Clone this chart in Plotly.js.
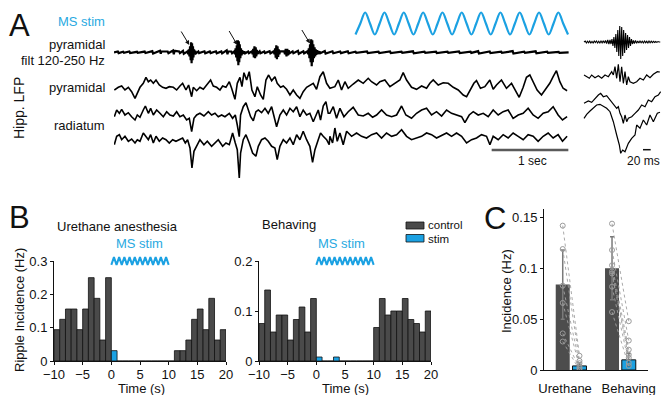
<!DOCTYPE html>
<html><head><meta charset="utf-8">
<script src="https://cdn.plot.ly/plotly-3.0.1.min.js"></script>
<style>html,body{margin:0;padding:0;background:#fff}#chart{width:661px;height:395px}</style>
</head><body><div id="chart"></div>
<script>
// ---------- Panel A: LFP traces (time in s, amplitude in arbitrary units) ----------
const filtT = [0.00,0.05,0.06,0.12,0.13,0.20,0.21,0.30,0.31,0.40,0.41,0.50,0.51,0.60,0.61,0.62,0.70,0.71,0.77,0.78,0.79,0.85,0.86,0.90,0.91,
0.960,0.968,0.976,0.984,0.992,1.000,1.006,1.012,1.018,1.024,1.030,1.036,1.044,1.052,1.060,1.070,
1.10,1.11,1.18,1.19,1.25,1.26,1.33,1.34,1.40,1.41,1.47,1.48,1.49,1.53,1.54,
1.570,1.578,1.586,1.594,1.602,1.610,1.616,1.622,1.628,1.634,1.640,1.648,1.656,1.664,1.672,1.680,
1.70,1.71,1.75,1.76,
1.800,1.808,1.816,1.824,1.832,1.840,1.848,1.856,1.864,1.872,
1.90,1.91,1.96,1.97,2.03,2.04,
2.085,2.093,2.101,2.109,2.117,2.125,2.133,2.141,2.149,2.157,2.165,
2.220,2.230,2.240,2.250,2.260,2.270,2.280,2.290,
2.33,2.34,2.40,2.41,2.47,2.48,
2.525,2.533,2.541,2.549,2.557,2.565,2.572,2.579,2.586,2.593,2.600,2.608,2.616,2.624,2.632,2.640,2.650,2.660,2.680,2.690,
2.75,2.76,2.85,2.86,2.95,2.96,3.05,3.06,3.15,3.16,3.30,3.31,3.45,3.46,3.60,3.61,3.75,3.76,3.90,3.91,4.05,4.06,4.20,4.21,4.35,4.36,4.50,4.51,4.65,4.66,4.75,4.76,4.90,4.91,5.05,5.06,5.20,5.21,5.35,5.36,5.50,5.51,5.65,5.66,5.80,5.81,5.93];
const filtV = [0,0.8,-0.8,0.5,-0.5,0.8,-0.8,0.5,-0.6,0.7,-0.7,1.2,-1.2,1.5,-1.5,1,0.8,-0.8,1.8,-2,1.5,0.8,-0.8,1.5,-1.5,
1,-2,3,-4,6,-8,10,-11,9,-8,6,-5,3,-2,1.5,-1,
0.8,-0.8,1,-1,0.8,-0.8,1,-1,0.8,-1,2,-2,1,0.8,-1,
1,-2,4,-5,7,-9,12,-13,11,-10,8,-6,4,-3,2,-1.5,
1,-1,0.8,-0.8,
1,-2,3.5,-5,6,-6,5,-4,2.5,-1.5,
1,-1,0.8,-0.8,1,-1,
1,-2,4,-5.5,7,-7,6,-4.5,3,-2,1,
1,-2,3.5,-4,3.5,-3,2,-1,
1,-1,1.5,-1.5,1,-1,
1,-2,4,-6,8,-10,13,-14,12,-10,8,-6,5,-4,3,-2.5,2,-1.5,1,-1,
1.2,-1.2,1,-1,0.8,-0.8,1,-1,0.6,-0.6,0.8,-0.8,0.7,-0.7,0.8,-0.8,0.6,-0.6,1,-1,0.6,-0.6,0.7,-0.7,0.6,-0.6,0.8,-0.8,0.6,-0.6,1.2,-1.2,0.8,-0.8,0.6,-0.6,1.2,-1.2,0.6,-0.6,1,-1,0.6,-0.6,0.5,-0.5,0];

const pyrT = [0.004,0.056,0.100,0.143,0.187,0.230,0.274,0.304,0.339,0.382,0.417,0.448,0.478,0.513,0.548,0.591,0.634,0.678,0.721,0.774,
0.817,0.860,0.895,0.939,0.973,1.013,1.034,1.078,1.121,1.165,1.208,1.260,1.295,1.339,1.382,1.417,1.460,1.504,1.534,1.578,
1.608,1.643,1.669,1.695,1.730,1.764,1.799,1.838,1.869,1.912,1.947,1.982,2.017,2.056,2.099,2.129,2.173,2.208,2.251,2.295,
2.338,2.382,2.425,2.468,2.512,2.555,2.599,2.642,2.686,2.729,2.773,2.816,2.881,2.925,2.968,3.012,3.055,3.120,3.186,3.251,
3.316,3.359,3.425,3.468,3.533,3.599,3.664,3.729,3.772,3.816,3.881,3.946,4.012,4.077,4.120,4.164,4.229,4.294,4.359,4.425,
4.490,4.555,4.599,4.642,4.694,4.728,4.780,4.837,4.902,4.946,4.989,5.054,5.119,5.185,5.228,5.285,5.337,5.380,5.424,5.476,
5.519,5.576,5.632,5.684,5.728,5.771,5.815,5.858,5.910];
const pyrV = [-2,0.7,2,-2,0.7,-3.7,-10.3,-5.3,0.7,4.7,10.7,6.3,8,4.7,8,3,0.7,-0.3,1.3,0.7,
-2,2,4.7,-2,3,-8.7,0.7,-2.7,0.7,-1.3,3,8,2,0.7,-2,2,0.7,6.3,-0.3,-11.3,
4.7,10.7,1.3,15.3,8,16.3,-2,-8.7,1.3,-7,-11.3,8,13,7.3,11.3,4.7,0.7,2,-1.3,-7,
-2,-7,-10.3,-3.7,0.7,3,4.7,-1.3,11.3,16.3,4.7,-0.3,1.3,8,-2,6.3,-0.3,4,8,4.7,
9.7,6.3,3,6.3,8,1.3,4.7,8,15.3,8,0.7,-1.3,2,-0.3,4.7,8,3,5.3,4.7,0.7,
-2,-7,-8.7,-2,4.7,7.3,-0.3,1.3,8,-1.3,3,8,-0.3,4.7,-2,-9.3,0.7,10.7,13,4.7,
-2,-7,-1.3,4.7,11.3,17.3,6.3,-0.3,-2.7];

const rad1T = [0.004,0.035,0.070,0.100,0.143,0.187,0.230,0.274,0.304,0.339,
0.382,0.409,0.448,0.478,0.513,0.556,0.600,0.643,0.687,0.730,
0.774,0.817,0.860,0.904,0.947,0.982,1.013,1.043,1.078,1.121,
1.173,1.230,1.273,1.317,1.360,1.404,1.447,1.504,1.547,1.582,
1.608,1.634,1.651,1.686,1.721,1.751,1.782,1.817,1.851,1.882,
1.925,1.969,2.012,2.056,2.086,2.121,2.164,2.208,2.251,2.295,
2.338,2.382,2.425,2.468,2.512,2.555,2.599,2.634,2.664,2.694,
2.729,2.764,2.794,2.816,2.860,2.903,2.947,2.999,3.055,3.120,
3.186,3.251,3.316,3.373,3.425,3.490,3.555,3.621,3.686,3.751,
3.807,3.881,3.946,4.012,4.077,4.142,4.207,4.273,4.338,4.403,
4.468,4.534,4.577,4.633,4.686,4.750,4.816,4.881,4.946,5.011,
5.076,5.141,5.206,5.272,5.337,5.402,5.467,5.532,5.598,5.663,
5.728,5.793,5.850,5.910];
const rad1V = [-1.7,5,1.7,5.7,0,2.3,-1.7,-5,0,-2.3,
5,9,1.7,6.7,0,5,1.7,-1.7,3.3,0,
-1,3.3,-1.7,0,-5,-3.3,-16.7,-3.3,0,1.7,
-1,3.3,0,1.7,-1.7,0,-1.7,1.7,-3.3,0,
-10,-21.7,0,8.3,12.3,5,-1.7,-5.7,3.3,5,
2.3,6.7,1.7,8.3,-1.7,-11.7,0,5,0,6.7,
3.3,8.3,-1.7,5,0,1.7,-6.7,0,5,-5,
9,13.3,1.7,1.7,8.3,-3.3,6.7,-1.7,3.3,7.7,
0,-1,1.7,-2.3,0,5,0,-1.7,0,9,
0,-3.3,1.7,5,6.7,0,3.3,-1,5,1.7,
0,-1.7,-7.7,0,3.3,0,1.7,-1.7,5,0,
3.3,5,-3.3,0,1.7,6.7,0,-3.3,1.7,3.3,
8.3,0,-5,-1.7];

const rad2T = [0.004,0.035,0.070,0.100,0.143,0.187,0.230,0.274,0.304,0.339,
0.382,0.409,0.448,0.478,0.513,0.548,0.591,0.634,0.678,0.721,
0.765,0.808,0.852,0.895,0.930,0.960,0.991,1.017,1.043,1.078,
1.121,1.173,1.217,1.273,1.317,1.360,1.417,1.460,1.504,1.547,
1.582,1.608,1.634,1.651,1.686,1.721,1.764,1.808,1.851,1.882,
1.925,1.969,2.012,2.056,2.099,2.129,2.164,2.208,2.251,2.295,
2.338,2.382,2.425,2.468,2.512,2.555,2.590,2.621,2.664,2.694,
2.729,2.773,2.807,2.816,2.851,2.881,2.912,2.947,2.990,3.034,
3.099,3.164,3.229,3.294,3.360,3.425,3.490,3.555,3.621,3.686,
3.751,3.816,3.881,3.946,4.012,4.077,4.142,4.207,4.273,4.338,
4.403,4.468,4.534,4.599,4.664,4.729,4.794,4.859,4.903,4.946,
5.011,5.076,5.141,5.206,5.272,5.337,5.402,5.467,5.532,5.598,
5.663,5.728,5.793,5.850,5.910];
const rad2V = [-6.7,1.7,3.3,-1.7,1.7,-3.3,-1,-5,-1.7,-3.3,
5,1.7,-1.7,3.3,-5,1.7,-3.3,0,-1.7,-5,
-1.7,-3.3,-1.7,0,-5,-1.7,-10,-30,-13.3,-8.3,
-1.7,-6.7,-3.3,-8.3,-5,-1.7,-8.3,-5,-6.7,5,
-5,-11.7,-40,-15,-1.7,3.3,-5,-15,-18.3,-8.3,
-1.7,0,-3.3,-8.3,-10,-21.7,-8.3,-1.7,-5,0,
-6.7,3.3,-1.7,6.7,-1.7,-8.3,-24.3,-11.7,-1.7,5,
1.7,-1.7,-6.7,1.7,-5,10,-3.3,5,-6.7,6.7,
1.7,5,1.7,0,3.3,5,0,5,1.7,3.3,
8.3,1.7,-1.7,0,1.7,5,3.3,0,2.3,5,
1.7,5,1.7,-5,-1.7,0,3.3,1.7,-6.7,1.7,
-1.7,3.3,0,5,1.7,-1.7,3.3,1.7,-3.3,1.7,
5,0,3.3,-3.3,1.7];

// MS stimulation waveform (sampled every quarter cycle)
const stimT = [3.150,3.213,3.276,3.339,3.402,3.465,3.528,3.591,3.654,3.717,3.780,3.843,3.906,3.969,4.032,4.095,4.158,4.221,4.284,4.347,4.410,4.473,4.536,4.599,4.662,4.725,4.788,4.851,4.914,4.977,5.040,5.103,5.166,5.229,5.292,5.355,5.418,5.481,5.544,5.607,5.670,5.733,5.796,5.859,5.922];
const stimV = [-1,0,1,0,-1,0,1,0,-1,0,1,0,-1,0,1,0,-1,0,1,0,-1,0,1,0,-1,0,1,0,-1,0,1,0,-1,0,1,0,-1,0,1,0,-1,0,1,0,-1];

// Insets (time in ms)
const ripT = [2.7,6,9,12,15,18,21,24,27,30,33,36,39,42,45,48,51,54,57,60,63,66,69,
72,74.6,77.2,79.8,82.4,85,87.6,90.2,92.8,95.4,98,100.6,103.2,105.8,108.4,111,113.6,116.2,118.8,121.4,124,126.6,129.2,131.8,134.4,
137,140,143,146,149,152,155,158,161,164,167,170,173,176,179,182,185,188,191,194,197,200,203,206];
const ripV = [0,1,-1,0.8,-0.8,1,-1,0.5,-1,1,-0.6,1,-1,0.7,-1,1,-0.8,1.2,-1,1.5,-1.5,2,-2,
2,-2,3,-4,5,-6,8,-10,12,-14,16,-17,15,-14,12,-11,9,-8,7,-6,5,-4,3,-2,1.5,
-1.5,1.5,-1.2,1,-1,1,-0.8,0.8,-1,1,-0.7,0.7,-1,1,-0.8,0.8,-0.6,0.6,-0.5,0.5,-0.4,0.4,0,0];
const pyrInsT = [2.7,9.8,16.9,23.1,32.0,40.9,49.8,58.7,67.6,76.5,80.9,85.3,89.8,94.2,98.7,103.1,107.6,112.0,116.5,120.9,125.3,134.2,143.1,152.0,160.9,169.8,178.7,187.6,198.2,205];
const pyrInsV = [1,-0.7,-2.3,1,-1.7,0.3,-2.3,1,-0.7,4.3,1,9.3,-2.3,11.7,-5.7,9.3,-7.3,4.3,-9,-0.7,-5.7,-7.3,-5.7,-2.3,-4,1,-1.7,1.7,4.3,4];
const rad1InsT = [2.7,14.2,23.1,32.0,40.9,47.1,54.2,63.1,72.0,80.9,89.8,94.2,98.7,103.1,107.6,112.0,116.5,120.9,129.8,138.7,147.6,156.5,165.4,174.2,183.1,192.0,200.9,207.1];
const rad1InsV = [6.7,9,7.7,11.7,15,16.7,13.3,14.3,10,6.7,1.7,3.3,-3.3,-6.7,-13.3,-5,-11.7,-8.3,-6.7,-3.3,0,5,3.3,10,8.3,13.3,15,18.3];
const rad2InsT = [2.7,9.8,18.7,27.6,36.4,45.3,54.2,63.1,72.0,80.9,89.8,96.9,100.5,105.8,112.0,120.9,129.8,138.7,143.1,152.0,160.9,169.8,178.7,187.6,198.2,205.3];
const rad2InsV = [6.7,10.7,14,16.7,20,20.7,18.3,16.7,13.3,3.3,-10,-20,-28.3,-25,-26.7,-18.3,-13.3,-10,0,-3.3,5,0,10,3.3,11.7,12.7];

// ---------- Panel B: ripple incidence histograms (1-s bins, left edges) ----------
const binsPre  = [-10,-9,-8,-7,-6,-5,-4,-3,-2,-1];
const binsStim = [0,1,2,3,4,5,6,7,8,9];
const binsPost = [10,11,12,13,14,15,16,17,18,19];
const uretPre  = [0.094,0.125,0.156,0.156,0.094,0.156,0.25,0.188,0.063,0.25];
const uretStim = [0.031,0,0,0,0,0,0,0,0,0];
const uretPost = [0,0.031,0.031,0.063,0.125,0.156,0.094,0.188,0.063,0.094];
const behPre   = [0.075,0.142,0.058,0.092,0.092,0.042,0.083,0.108,0.058,0.125];
const behStim  = [0.008,0,0,0.008,0,0,0,0,0,0];
const behPost  = [0.067,0.125,0.092,0.1,0.1,0.125,0.083,0.075,0.058,0.1];
const zigT = [0,0.4545,0.909,1.364,1.818,2.273,2.727,3.182,3.636,4.091,4.545,5.0,5.455,5.909,6.364,6.818,7.273,7.727,8.182,8.636,9.091,9.545,10.0];
const zigV = [0,1,0,1,0,1,0,1,0,1,0,1,0,1,0,1,0,1,0,1,0,1,0];

// ---------- Panel C ----------
const cCats = ['Urethane','Behaving'];
const ctrlMean = [0.084,0.100];
const ctrlSem  = [0.034,0.031];
const stimMean = [0.004,0.010];
const stimSem  = [0.003,0.006];
const uretCtrlPts = [0.142,0.119,0.083,0.066,0.036,0.028];
const uretStimPts = [0.014,0.009,0.0067,0.0033,0.0017,0.000];
const behCtrlPts  = [0.144,0.118,0.103,0.097,0.095,0.082,0.057];
const behStimPts  = [0.048,0.029,0.020,0.015,0.012,0.007,0.004];

// ---------- build ----------
const W = 661, H = 395;
const px = x => x / W, py = y => 1 - y / H;
const BLUE = '#1ba1e2', TXTBLUE = '#29a9e1', GRAY = '#4a4a4a', INK = '#111';

const traces = [];
function line(t, v, base, ax, ay, color, w, extra) {
  return Object.assign({type:'scatter', mode:'lines', x:t, y:v.map(a => a - base),
    xaxis:ax, yaxis:ay, line:{color:color, width:w}, hoverinfo:'skip'}, extra || {});
}
// stim sine
traces.push(line(stimT, stimV.map(s => s * 11), 23.5, 'x', 'y', BLUE, 2.2, {line:{color:BLUE, width:2.2, shape:'spline'}}));
traces.push(line(filtT, filtV, 52.3, 'x', 'y', '#000', 2.2));
traces.push(line(pyrT, pyrV, 88, 'x', 'y', '#000', 1.6));
traces.push(line(rad1T, rad1V, 115, 'x', 'y', '#000', 1.6));
traces.push(line(rad2T, rad2V, 138, 'x', 'y', '#000', 1.6));
// insets
traces.push(line(ripT, ripV, 42, 'x2', 'y2', '#000', 1.1));
traces.push(line(pyrInsT, pyrInsV, 76, 'x2', 'y2', '#000', 1.2));
traces.push(line(rad1InsT, rad1InsV, 110, 'x2', 'y2', '#000', 1.2));
traces.push(line(rad2InsT, rad2InsV, 125, 'x2', 'y2', '#000', 1.2));

function bars(x, y, color, ax, ay) {
  return {type:'bar', x:x, y:y, offset:0, width:1, xaxis:ax, yaxis:ay,
    marker:{color:color, line:{color:'#111', width:0.8}}, hoverinfo:'skip'};
}
traces.push(bars(binsPre, uretPre, GRAY, 'x3', 'y3'));
traces.push(bars(binsPost, uretPost, GRAY, 'x3', 'y3'));
traces.push(bars(binsStim, uretStim, BLUE, 'x3', 'y3'));
traces.push(bars(binsPre, behPre, GRAY, 'x4', 'y4'));
traces.push(bars(binsPost, behPost, GRAY, 'x4', 'y4'));
traces.push(bars(binsStim, behStim, BLUE, 'x4', 'y4'));
traces.push({type:'scatter', mode:'lines', x:zigT, y:zigV, xaxis:'x3', yaxis:'y6', line:{color:BLUE, width:2}, hoverinfo:'skip'});
traces.push({type:'scatter', mode:'lines', x:zigT, y:zigV, xaxis:'x4', yaxis:'y7', line:{color:BLUE, width:2}, hoverinfo:'skip'});

// panel C bars
const BW = 0.284;
traces.push({type:'bar', x:[0,1], y:ctrlMean, offset:-0.31, width:BW, xaxis:'x5', yaxis:'y5',
  marker:{color:'#4d4d4d', line:{width:0}},
  error_y:{type:'data', array:ctrlSem, visible:true, color:'#7a7a7a', thickness:1.5, width:2}, hoverinfo:'skip'});
traces.push({type:'bar', x:[0,1], y:stimMean, offset:0.03, width:BW, xaxis:'x5', yaxis:'y5',
  marker:{color:BLUE, line:{color:'#111', width:1}},
  error_y:{type:'data', array:stimSem, visible:true, color:'#555', thickness:1, width:2}, hoverinfo:'skip'});
// paired points
const cx = [], cy = [];
[[uretCtrlPts, uretStimPts, 0], [behCtrlPts, behStimPts, 1]].forEach(([c, s, i]) => {
  c.forEach((v, k) => { cx.push(i - 0.31 + BW/2, i + 0.03 + BW/2, null); cy.push(v, s[k], null); });
});
traces.push({type:'scatter', mode:'lines+markers', x:cx, y:cy, xaxis:'x5', yaxis:'y5',
  line:{color:'#a0a0a0', width:0.9, dash:'dot'},
  marker:{symbol:'circle-open', size:5, color:'#9a9a9a', line:{width:1}}, hoverinfo:'skip'});

const hid = {visible:false, fixedrange:true, showgrid:false, zeroline:false};
const axStyle = {showline:true, linecolor:'#111', linewidth:1, ticks:'outside', ticklen:3, tickwidth:1,
  tickcolor:'#111', showgrid:false, zeroline:false, tickfont:{size:13, color:INK}, fixedrange:true, automargin:false};

const layout = {
  width:W, height:H, margin:{l:0, r:0, t:0, b:0}, showlegend:false,
  paper_bgcolor:'#fff', plot_bgcolor:'rgba(0,0,0,0)', barmode:'overlay',
  font:{family:'Liberation Sans, Arial, Helvetica, sans-serif', size:13, color:INK},
  xaxis: Object.assign({domain:[px(114), px(574)], range:[0, 6], anchor:'y'}, hid),
  yaxis: Object.assign({domain:[py(185), py(0)], range:[-185, 0], anchor:'x'}, hid),
  xaxis2: Object.assign({domain:[px(583), px(661)], range:[0, 208], anchor:'y2'}, hid),
  yaxis2: Object.assign({domain:[py(185), py(0)], range:[-185, 0], anchor:'x2'}, hid),
  xaxis3: Object.assign({}, axStyle, {domain:[px(54), px(226)], range:[-10, 20], anchor:'y3',
    tickvals:[-10,-5,0,5,10,15,20], ticklabelstandoff:-2}),
  yaxis3: Object.assign({domain:[py(361), py(261)], range:[0, 0.3], anchor:'x3',
    tickvals:[0,0.1,0.2,0.3]}, axStyle),
  xaxis4: Object.assign({}, axStyle, {domain:[px(259), px(431)], range:[-10, 20], anchor:'y4',
    tickvals:[-10,-5,0,5,10,15,20], ticklabelstandoff:-2}),
  yaxis4: Object.assign({domain:[py(361), py(261)], range:[0, 0.2], anchor:'x4',
    tickvals:[0,0.1,0.2]}, axStyle),
  xaxis5: Object.assign({}, axStyle, {domain:[px(544), px(648)], range:[-0.548, 1.562], anchor:'y5',
    tickvals:[-0.12, 1.17], ticktext:cCats, ticks:'', ticklabelstandoff:6}),
  yaxis5: Object.assign({domain:[py(370), py(209.4)], range:[0, 0.158], anchor:'x5',
    tickvals:[0,0.05,0.1,0.15]}, axStyle),
  yaxis6: Object.assign({domain:[py(266), py(256)], range:[-0.15, 1.15], anchor:'x3'}, hid),
  yaxis7: Object.assign({domain:[py(266), py(256)], range:[-0.15, 1.15], anchor:'x4'}, hid),
  shapes:[
    {type:'line', xref:'x', yref:'y', x0:4.926, x1:5.926, y0:-150, y1:-150, line:{color:'#5a5a5a', width:2.5}},
    {type:'line', xref:'x2', yref:'y2', x0:160, x1:180.5, y0:-149.7, y1:-149.7, line:{color:'#111', width:1.5}},
    {type:'rect', xref:'paper', yref:'paper', x0:px(406), x1:px(424), y0:py(229), y1:py(222), fillcolor:GRAY, line:{color:'#111', width:0.8}},
    {type:'rect', xref:'paper', yref:'paper', x0:px(406), x1:px(424), y0:py(242), y1:py(234.5), fillcolor:BLUE, line:{color:'#111', width:0.8}}
  ],
  annotations:[]
};

function T(text, x, y, o) {
  return Object.assign({text:text, x:px(x), y:py(y), xref:'paper', yref:'paper', showarrow:false,
    xanchor:'left', yanchor:'middle', font:{size:13, color:INK}}, o || {});
}
const ann = layout.annotations;
ann.push(T('A', 7, 25, {font:{size:31, color:INK}}));
ann.push(T('B', 7, 217, {font:{size:31, color:INK}}));
ann.push(T('C', 482, 218, {font:{size:31, color:INK}}));
ann.push(T('MS stim', 107, 22, {xanchor:'right', font:{size:13, color:TXTBLUE}}));
ann.push(T('pyramidal', 107, 44, {xanchor:'right'}));
ann.push(T('filt 120-250 Hz', 107, 60, {xanchor:'right'}));
ann.push(T('pyramidal', 107, 88, {xanchor:'right'}));
ann.push(T('radiatum', 107, 126, {xanchor:'right'}));
ann.push(T('Hipp. LFP', 19, 108, {xanchor:'center', textangle:-90, font:{size:14, color:INK}}));
ann.push(T('1 sec', 532, 161, {xanchor:'center', font:{size:12, color:INK}}));
ann.push(T('20 ms', 643, 161, {xanchor:'center', font:{size:12, color:INK}}));
ann.push(T('Urethane anesthesia', 55, 226));
ann.push(T('MS stim', 139, 244, {xanchor:'center', font:{size:13, color:TXTBLUE}}));
ann.push(T('Behaving', 260, 224));
ann.push(T('MS stim', 342, 244, {xanchor:'center', font:{size:13, color:TXTBLUE}}));
ann.push(T('control', 427, 225, {borderpad:0, font:{size:11.5, color:INK}}));
ann.push(T('stim', 427, 238.5, {borderpad:0, font:{size:11.5, color:INK}}));
// axis titles
ann.push(T('Time (s)', 141, 388, {xanchor:'center', borderpad:0}));
ann.push(T('Time (s)', 345, 388, {xanchor:'center', borderpad:0}));
ann.push(T('Ripple Incidence (Hz)', 19, 310, {xanchor:'center', textangle:-90}));
ann.push(T('Incidence (Hz)', 506, 291, {xanchor:'center', textangle:-90}));
// arrows pointing to ripples
[[0.982, -45, -9, -15], [1.608, -45, -9, -15.5], [2.556, -43.5, -9, -15]].forEach(([x, y, dx, dy]) => {
  ann.push({xref:'x', yref:'y', x:x, y:y, ax:dx, ay:dy, text:'', showarrow:true, arrowhead:2,
    arrowsize:0.9, arrowwidth:1, arrowcolor:'#111'});
});

Plotly.newPlot('chart', traces, layout, {staticPlot:true, displayModeBar:false});
</script></body></html>
